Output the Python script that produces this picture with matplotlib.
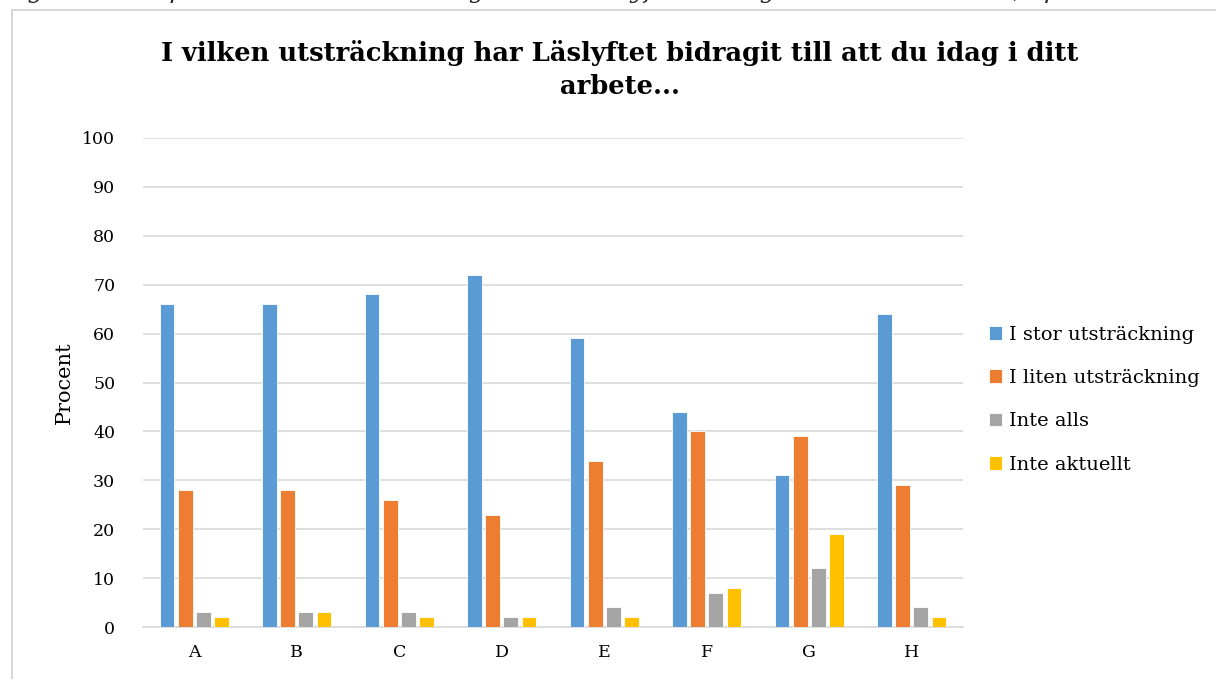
import numpy as np
import matplotlib.pyplot as plt
from matplotlib.patches import Rectangle

plt.rcParams['font.family'] = ['DejaVu Serif']

categories = ['A', 'B', 'C', 'D', 'E', 'F', 'G', 'H']
series_names = ['I stor utsträckning', 'I liten utsträckning', 'Inte alls', 'Inte aktuellt']
stor = [66, 66, 68, 72, 59, 44, 31, 64]
liten = [28, 28, 26, 23, 34, 40, 39, 29]
inte_alls = [3, 3, 3, 2, 4, 7, 12, 4]
inte_aktuellt = [2, 3, 2, 2, 2, 8, 19, 2]
colors = ['#5B9BD5', '#ED7D31', '#A5A5A5', '#FFC000']

fig = plt.figure(figsize=(12.16, 6.79), dpi=100)

# chart frame (cut at right/bottom like the screenshot)
fig.patches.append(Rectangle((12 / 1216, -0.05), 1.2, 1 - 10 / 679 + 0.05,
                             transform=fig.transFigure, fill=False,
                             edgecolor='#d0d0d0', linewidth=1.2))

# caption line above chart, mostly cut off
fig.text(0.003, 1.013, 'Figur 11. Respondenternas bedömning av vad Läslyftet bidragit till i deras arbete, i procent',
         fontsize=17.5, style='italic', ha='left', va='center', color='#222222')

ax = fig.add_axes([143 / 1216, 1 - 627 / 679, 820 / 1216, (627 - 138) / 679])

x = np.arange(len(categories))
step = 0.176
width = 0.142
for i, (vals, name) in enumerate(zip([stor, liten, inte_alls, inte_aktuellt], series_names)):
    ax.bar(x + (i - 1.5) * step, vals, width, color=colors[i], label=name,
           edgecolor='white', linewidth=0.6, zorder=3)

ax.set_xlim(-0.5, len(categories) - 0.5)
ax.set_ylim(0, 100)
ax.set_yticks(range(0, 101, 10))
ax.set_xticks(x)
ax.set_xticklabels(categories)
ax.grid(axis='y', color='#d9d9d9', linewidth=1.2, zorder=0)
for s in ['top', 'right', 'left']:
    ax.spines[s].set_visible(False)
ax.spines['bottom'].set_color('#d9d9d9')
ax.spines['bottom'].set_linewidth(1.2)
ax.tick_params(axis='both', length=0, labelsize=12.5, colors='black')
ax.tick_params(axis='y', pad=20)
ax.tick_params(axis='x', pad=12)
ax.set_ylabel('Procent', fontsize=15, labelpad=6)

fig.text(620 / 1216, 1 - 70 / 679,
         'I vilken utsträckning har Läslyftet bidragit till att du idag i ditt\narbete...',
         fontsize=18.5, fontweight='bold', ha='center', va='center', linespacing=1.4)

ax.legend(loc='center left', bbox_to_anchor=(1.01, 0.465), frameon=False,
          fontsize=14, handlelength=0.7, handleheight=0.7, handletextpad=0.35,
          labelspacing=1.3)

fig.savefig('out.png', dpi=100)
